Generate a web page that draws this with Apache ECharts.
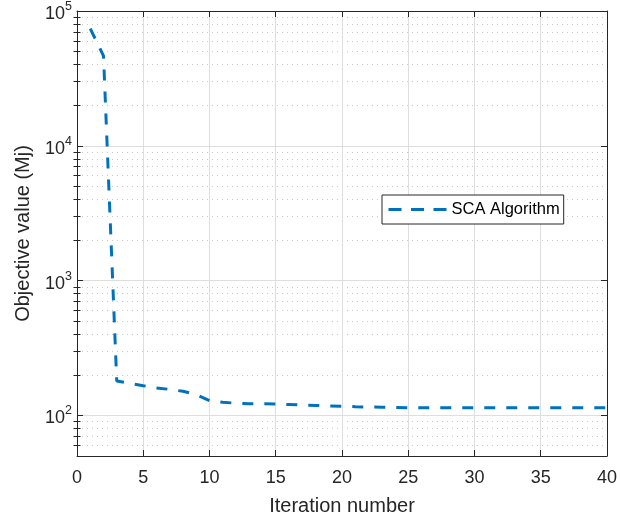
<!DOCTYPE html>
<html>
<head>
<meta charset="utf-8">
<script src="https://cdn.jsdelivr.net/npm/echarts@6/dist/echarts.min.js"></script>
<style>
html,body{margin:0;padding:0;background:#fff;}
#chart{width:620px;height:521px;}
</style>
</head>
<body>
<div id="chart"></div>
<script>
// ---- data ----
const iterations = [1,2,3,4,5,6,7,8,9,10,11,12,13,14,15,16,17,18,19,20,21,22,23,24,25,26,27,28,29,30,31,32,33,34,35,36,37,38,39,40];
const objective = [74000,46500,180,173,166,160,156,151,143,128.5,125,123.3,122.2,122,121.5,120.5,119.5,118.5,117.5,117,116,115.5,115,114.5,114,114,114,114,114,114,114,114,114,114,114,114,114,114,114,114];
const seriesName = 'SCA Algorithm';
const xTicks = [0,5,10,15,20,25,30,35,40];
const yMajor = [100,1000,10000,100000];
const yMinor = [60,70,80,90,200,300,400,500,600,700,800,900,2000,3000,4000,5000,6000,7000,8000,9000,20000,30000,40000,50000,60000,70000,80000,90000];
const xTitle = 'Iteration number';
const yTitle = 'Objective value (Mj)';

const AX = '#262626';
const FONT = '"Liberation Sans", Arial, Helvetica, sans-serif';
const chart = echarts.init(document.getElementById('chart'), null, {renderer:'canvas'});

function supLabel(v){
  const e = Math.round(Math.log10(v));
  return '{b|10}{s|' + e + '}';
}
const yBase = {
  type:'log', logBase:10, min:50, max:100000, gridIndex:0
};
const option = {
  backgroundColor:'#fff',
  animation:false,
  textStyle:{fontFamily:FONT},
  grid:{left:77, right:12, top:11, bottom:65, containLabel:false},
  legend:{
    show:true, data:[seriesName], left:382, top:195,
    orient:'horizontal',
    backgroundColor:'#fff', borderColor:AX, borderWidth:1, borderRadius:0,
    padding:[6,4,6,5], itemWidth:58, itemHeight:18, itemGap:0,
    textStyle:{fontSize:16.5, color:'#000', fontFamily:FONT},
    itemStyle:{opacity:0},
    lineStyle:{type:[13,9.5], width:3, color:'#0072BD', cap:'butt'}
  },
  xAxis:[
    {type:'value', position:'bottom', min:0, max:40, interval:5,
     axisLine:{show:true, onZero:false, lineStyle:{color:AX, width:1}},
     axisTick:{show:true, inside:true, length:6, lineStyle:{color:AX}},
     axisLabel:{fontSize:18, color:AX, margin:13, fontFamily:FONT},
     splitLine:{show:true, lineStyle:{color:'#dedede', width:1}},
     name:xTitle, nameLocation:'middle', nameGap:40,
     nameTextStyle:{fontSize:20, color:AX, fontFamily:FONT}},
    {type:'value', position:'top', min:0, max:40, interval:5,
     axisLine:{show:true, onZero:false, lineStyle:{color:AX, width:1}},
     axisTick:{show:true, inside:true, length:6, lineStyle:{color:AX}},
     axisLabel:{show:false}, splitLine:{show:false}}
  ],
  yAxis:[
    Object.assign({}, yBase, {position:'left',
     axisLine:{show:true, onZero:false, lineStyle:{color:AX, width:1}},
     axisTick:{show:true, inside:true, length:6, customValues:yMajor, lineStyle:{color:AX}},
     axisLabel:{show:true, customValues:yMajor, margin:5, formatter:supLabel,
       rich:{b:{fontSize:18, color:AX, fontFamily:FONT, padding:[6,0,0,0]},
             s:{fontSize:12.5, color:AX, fontFamily:FONT, padding:[0,0,9,0]}}},
     splitLine:{show:true, lineStyle:{color:'#dedede', width:1}},
     name:yTitle, nameLocation:'middle', nameGap:44,
     nameTextStyle:{fontSize:20, color:AX, fontFamily:FONT}}),
    Object.assign({}, yBase, {position:'left',
     axisLine:{show:false},
     axisTick:{show:true, inside:true, length:3.5, customValues:yMinor, lineStyle:{color:AX}},
     axisLabel:{show:false},
     splitLine:{show:true, lineStyle:{color:'#c8c8c8', width:1, type:[1,4]}}}),
    Object.assign({}, yBase, {position:'right',
     axisLine:{show:true, onZero:false, lineStyle:{color:AX, width:1}},
     axisTick:{show:true, inside:true, length:6, customValues:yMajor, lineStyle:{color:AX}},
     axisLabel:{show:false}, splitLine:{show:false}}),
    Object.assign({}, yBase, {position:'right',
     axisLine:{show:false},
     axisTick:{show:true, inside:true, length:3.5, customValues:yMinor, lineStyle:{color:AX}},
     axisLabel:{show:false}, splitLine:{show:false}})
  ],
  series:[{
    name:seriesName, type:'line', xAxisIndex:0, yAxisIndex:0,
    data: iterations.map((x,i)=>[x, objective[i]]),
    symbol:'none', showSymbol:false, smooth:false, z:5,
    lineStyle:{color:'#0072BD', width:3, type:[11,11], cap:'butt'},
    itemStyle:{color:'#0072BD'}
  }]
};
chart.setOption(option);
</script>
</body>
</html>
